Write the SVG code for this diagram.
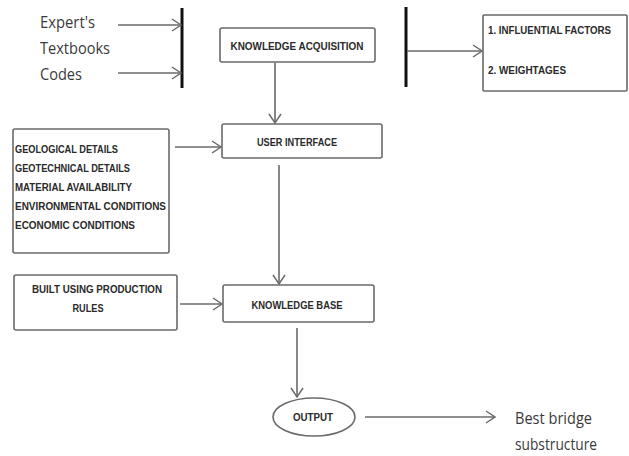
<svg xmlns="http://www.w3.org/2000/svg" width="629" height="456" viewBox="0 0 629 456">
<style>
.box{fill:#fff;stroke:#6a6a6a;stroke-width:1.6}
.lbl{font-family:"Liberation Sans",Arial,sans-serif;font-weight:bold;font-size:10px;fill:#2a2a2a}
.big{font-family:"Open Sans","Liberation Sans",sans-serif;font-size:16px;fill:#3a3a3a}
.ln{stroke:#6a6a6a;stroke-width:1.6;fill:none}
.bar{stroke:#111;stroke-width:3;fill:none}
</style>
<defs>
<marker id="ah" markerUnits="userSpaceOnUse" markerWidth="12" markerHeight="14" refX="10" refY="7" orient="auto">
<path d="M1,1 L10,7 L1,13" fill="none" stroke="#6a6a6a" stroke-width="1.5"/>
</marker>
</defs>
<rect width="629" height="456" fill="#fff"/>
<g id="sources">
<text class="big" x="40" y="28" textLength="55" lengthAdjust="spacingAndGlyphs">Expert's</text>
<text class="big" x="40" y="54" textLength="70" lengthAdjust="spacingAndGlyphs">Textbooks</text>
<text class="big" x="40" y="80" textLength="42" lengthAdjust="spacingAndGlyphs">Codes</text>
</g>
<g id="knowledge-acquisition">
<rect class="box" x="220" y="28" width="155" height="34" rx="2"/>
<text class="lbl" x="297" y="50" text-anchor="middle" textLength="133" lengthAdjust="spacingAndGlyphs">KNOWLEDGE ACQUISITION</text>
</g>
<g id="factors">
<rect class="box" x="483" y="15" width="144" height="76" rx="1"/>
<text class="lbl" x="488" y="34" textLength="123" lengthAdjust="spacingAndGlyphs">1. INFLUENTIAL FACTORS</text>
<text class="lbl" x="488" y="74" textLength="78" lengthAdjust="spacingAndGlyphs">2. WEIGHTAGES</text>
</g>
<g id="inputs">
<rect class="box" x="13" y="129" width="156" height="124" rx="2"/>
<text class="lbl" x="15" y="153" textLength="103" lengthAdjust="spacingAndGlyphs">GEOLOGICAL DETAILS</text>
<text class="lbl" x="15" y="172" textLength="115" lengthAdjust="spacingAndGlyphs">GEOTECHNICAL DETAILS</text>
<text class="lbl" x="15" y="191" textLength="117" lengthAdjust="spacingAndGlyphs">MATERIAL AVAILABILITY</text>
<text class="lbl" x="15" y="210" textLength="151" lengthAdjust="spacingAndGlyphs">ENVIRONMENTAL CONDITIONS</text>
<text class="lbl" x="15" y="229" textLength="120" lengthAdjust="spacingAndGlyphs">ECONOMIC CONDITIONS</text>
</g>
<g id="user-interface">
<rect class="box" x="222" y="124" width="160" height="34" rx="2"/>
<text class="lbl" x="297" y="146" text-anchor="middle" textLength="80" lengthAdjust="spacingAndGlyphs">USER INTERFACE</text>
</g>
<g id="rules">
<rect class="box" x="14" y="275" width="163" height="55" rx="2"/>
<text class="lbl" x="97" y="293" text-anchor="middle" textLength="130" lengthAdjust="spacingAndGlyphs">BUILT USING PRODUCTION</text>
<text class="lbl" x="88" y="312" text-anchor="middle" textLength="31" lengthAdjust="spacingAndGlyphs">RULES</text>
</g>
<g id="knowledge-base">
<rect class="box" x="223" y="285" width="151" height="37" rx="2"/>
<text class="lbl" x="297" y="309" text-anchor="middle" textLength="91" lengthAdjust="spacingAndGlyphs">KNOWLEDGE BASE</text>
</g>
<g id="output">
<ellipse class="box" cx="314" cy="417" rx="41" ry="19"/>
<text class="lbl" x="313" y="421" text-anchor="middle" textLength="40" lengthAdjust="spacingAndGlyphs">OUTPUT</text>
</g>
<g id="result">
<text class="big" x="515" y="424" textLength="77" lengthAdjust="spacingAndGlyphs">Best bridge</text>
<text class="big" x="515" y="450" textLength="82" lengthAdjust="spacingAndGlyphs">substructure</text>
</g>
<g id="connectors">
<line class="bar" x1="182" y1="8" x2="182" y2="88"/>
<line class="bar" x1="406" y1="7" x2="406" y2="87"/>
<line class="ln" x1="118" y1="25" x2="181" y2="25" marker-end="url(#ah)"/>
<line class="ln" x1="118" y1="73" x2="181" y2="73" marker-end="url(#ah)"/>
<line class="ln" x1="407" y1="51" x2="482" y2="51" marker-end="url(#ah)"/>
<line class="ln" x1="275" y1="63" x2="275" y2="123" marker-end="url(#ah)"/>
<line class="ln" x1="175" y1="147" x2="221" y2="147" marker-end="url(#ah)"/>
<line class="ln" x1="279" y1="165" x2="279" y2="284" marker-end="url(#ah)"/>
<line class="ln" x1="180" y1="304" x2="222" y2="304" marker-end="url(#ah)"/>
<line class="ln" x1="297" y1="328" x2="297" y2="397" marker-end="url(#ah)"/>
<line class="ln" x1="365" y1="417" x2="495" y2="417" marker-end="url(#ah)"/>
</g>
</svg>
